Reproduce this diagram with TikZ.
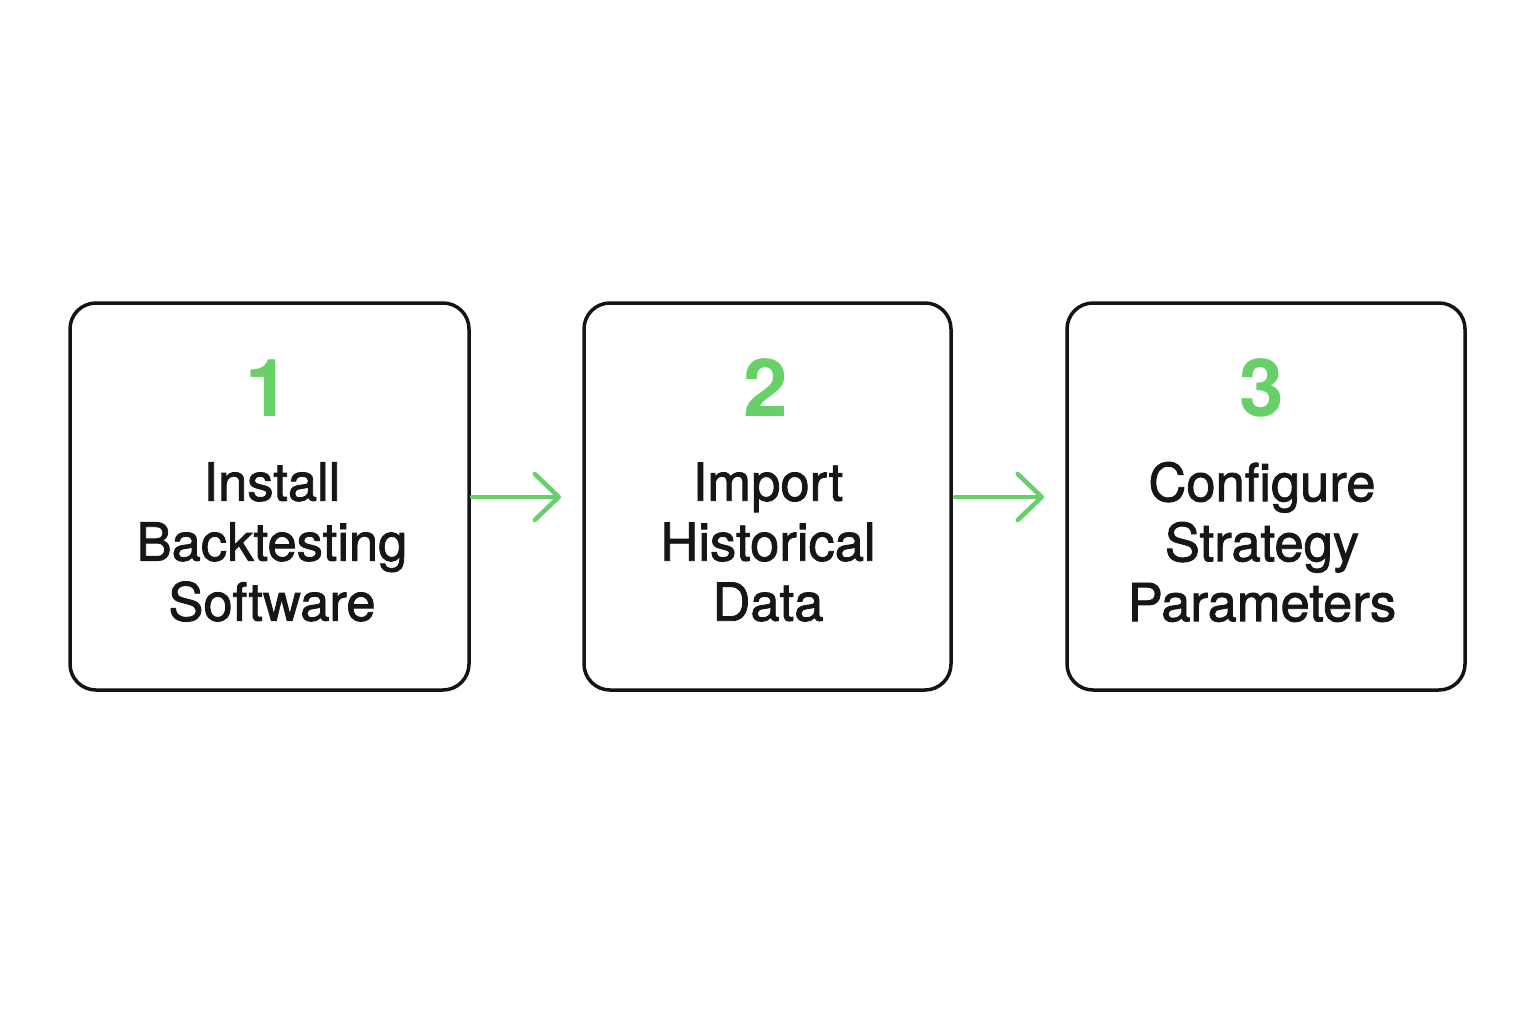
\documentclass[tikz,border=0pt]{standalone}
\usepackage{fontspec}
\setmainfont{TeX Gyre Heros}
\newfontfamily\medfont{TeX Gyre Heros}[FakeBold=1.6]
\usetikzlibrary{arrows.meta}
\definecolor{stepgreen}{RGB}{104,208,104}
\definecolor{boxline}{RGB}{20,20,20}
\definecolor{textdark}{RGB}{22,22,22}
\begin{document}
\begin{tikzpicture}[x=1pt,y=-1pt,
  stepbox/.style={draw=boxline, line width=3.5pt, rounded corners=26pt, fill=white},
  numlabel/.style={text=stepgreen, font=\fontsize{80}{80}\selectfont\bfseries, inner sep=0pt},
  steptext/.style={text=textdark, font=\medfont\fontsize{52.5}{60}\selectfont, align=center, inner sep=0pt},
  flow/.style={draw=stepgreen, line width=4.5pt, line cap=round, -{Straight Barb[length=24pt, width=46pt, line width=4.5pt, round]}}
]
\useasboundingbox (0,0) rectangle (1536,1024);
% boxes
\draw[stepbox] (70,303) rectangle (469,690);
\draw[stepbox] (584,303) rectangle (951,690);
\draw[stepbox] (1067,303) rectangle (1465,690);
\coordinate (b1r) at (472,497);
\coordinate (b2l) at (561,497);
\coordinate (b2r) at (955,497);
\coordinate (b3l) at (1044,497);
% numbers
\node[numlabel] (n1) at (268,388) {1};
\node[numlabel] (n2) at (766,388) {2};
\node[numlabel] (n3) at (1262,388) {3};
% texts
\node[steptext] (t1) at (272,542) {Install\\Backtesting\\Software};
\node[steptext] (t2) at (768,542) {Import\\Historical\\Data};
\node[steptext] (t3) at (1262,542) {Configure\\Strategy\\Parameters};
% arrows
\draw[flow] (b1r) -- (b2l);
\draw[flow] (b2r) -- (b3l);
\end{tikzpicture}
\end{document}
